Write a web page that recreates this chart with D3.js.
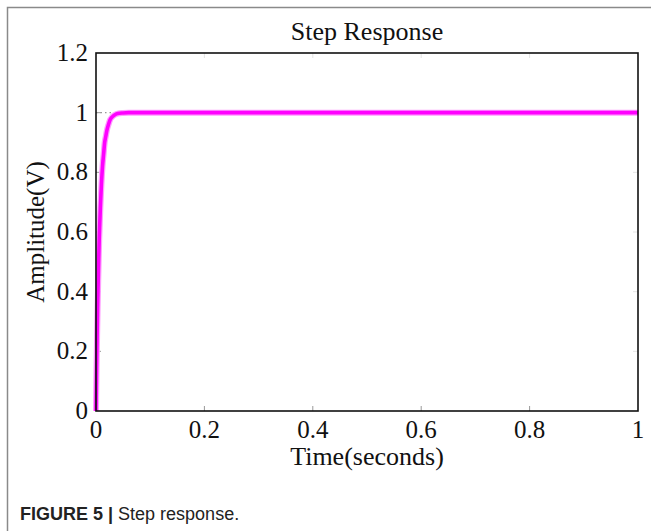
<!DOCTYPE html>
<html>
<head>
<meta charset="utf-8">
<script src="https://cdn.jsdelivr.net/npm/d3@7"></script>
<style>
  html, body { margin: 0; padding: 0; background: #fff; }
  svg { display: block; }
</style>
</head>
<body>
<svg id="chart" width="651" height="531"></svg>
<script>
// Step response samples: time (s) and amplitude (V)
const timeValues = [0, 0.001, 0.002, 0.003, 0.004, 0.005, 0.006, 0.007, 0.008, 0.010, 0.012,
  0.014, 0.016, 0.018, 0.020, 0.023, 0.026, 0.030, 0.035, 0.040, 0.050, 0.060, 0.1, 0.2,
  0.4, 0.6, 0.8, 1.0];
const amplitudeValues = [0, 0.13, 0.25, 0.35, 0.43, 0.51, 0.58, 0.63, 0.68, 0.76, 0.82,
  0.86, 0.90, 0.92, 0.94, 0.96, 0.976, 0.986, 0.993, 0.997, 0.999, 1.0, 1.0, 1.0,
  1.0, 1.0, 1.0, 1.0];
const xTickValues = [0, 0.2, 0.4, 0.6, 0.8, 1];
const yTickValues = [0, 0.2, 0.4, 0.6, 0.8, 1, 1.2];
const steadyStateValue = 1;

const svg = d3.select("#chart");
const W = 651, H = 531;
const plot = { left: 96, right: 638, top: 53, bottom: 411 };

const x = d3.scaleLinear().domain([0, 1]).range([plot.left, plot.right]);
const y = d3.scaleLinear().domain([0, 1.2]).range([plot.bottom, plot.top]);

const serif = "'Liberation Serif', 'Times New Roman', serif";

// outer figure frame (left and top edges)
svg.append("path")
  .attr("d", `M7.5,${H} V7.5 H${W}`)
  .attr("fill", "none")
  .attr("stroke", "#8a8a8a")
  .attr("stroke-width", 1.5);

// title
svg.append("text")
  .attr("x", (plot.left + plot.right) / 2)
  .attr("y", 40)
  .attr("text-anchor", "middle")
  .attr("font-family", serif)
  .attr("font-size", 26)
  .attr("fill", "#111")
  .text("Step Response");

// inward tick marks on all four sides
const tickG = svg.append("g").attr("stroke", "#999").attr("stroke-width", 1);
xTickValues.slice(1, -1).forEach(v => {
  tickG.append("line").attr("x1", x(v)).attr("x2", x(v))
    .attr("y1", plot.bottom).attr("y2", plot.bottom - 5);
  tickG.append("line").attr("x1", x(v)).attr("x2", x(v))
    .attr("y1", plot.top).attr("y2", plot.top + 5).attr("stroke", "#e4e4e4");
});
yTickValues.slice(1, -1).forEach(v => {
  tickG.append("line").attr("x1", plot.left).attr("x2", plot.left + 5)
    .attr("y1", y(v)).attr("y2", y(v));
  tickG.append("line").attr("x1", plot.right).attr("x2", plot.right - 5)
    .attr("y1", y(v)).attr("y2", y(v)).attr("stroke", "#e4e4e4");
});

// steady-state reference line
svg.append("line")
  .attr("x1", x(0)).attr("x2", x(0.032))
  .attr("y1", y(steadyStateValue)).attr("y2", y(steadyStateValue))
  .attr("stroke", "#999")
  .attr("stroke-width", 1.2)
  .attr("stroke-dasharray", "1.5,3");

// response curve
const pts = timeValues.map((t, i) => [t, amplitudeValues[i]]);
const line = d3.line().x(d => x(d[0])).y(d => y(d[1])).curve(d3.curveMonotoneX);
svg.append("path")
  .datum(pts)
  .attr("d", line)
  .attr("fill", "none")
  .attr("stroke", "#ff9cff")
  .attr("stroke-width", 6)
  .attr("stroke-linejoin", "round");
svg.append("path")
  .datum(pts)
  .attr("d", line)
  .attr("fill", "none")
  .attr("stroke", "#ff00ff")
  .attr("stroke-width", 3.6)
  .attr("stroke-linejoin", "round");

// axes box
svg.append("rect")
  .attr("x", plot.left).attr("y", plot.top)
  .attr("width", plot.right - plot.left).attr("height", plot.bottom - plot.top)
  .attr("fill", "none")
  .attr("stroke", "#111")
  .attr("stroke-width", 1.6);

// tick labels
svg.append("g").selectAll("text")
  .data(xTickValues).join("text")
  .attr("x", d => x(d))
  .attr("y", 438)
  .attr("text-anchor", "middle")
  .attr("font-family", serif)
  .attr("font-size", 25)
  .attr("fill", "#111")
  .text(d => d3.format("~g")(d));

svg.append("g").selectAll("text")
  .data(yTickValues).join("text")
  .attr("x", 88)
  .attr("y", d => y(d) + 8)
  .attr("text-anchor", "end")
  .attr("font-family", serif)
  .attr("font-size", 25)
  .attr("fill", "#111")
  .text(d => d3.format("~g")(d));

// axis labels
svg.append("text")
  .attr("x", (plot.left + plot.right) / 2)
  .attr("y", 465)
  .attr("text-anchor", "middle")
  .attr("font-family", serif)
  .attr("font-size", 26)
  .attr("fill", "#111")
  .text("Time(seconds)");

svg.append("text")
  .attr("transform", `translate(44,${(plot.top + plot.bottom) / 2}) rotate(-90)`)
  .attr("text-anchor", "middle")
  .attr("font-family", serif)
  .attr("font-size", 25)
  .attr("fill", "#111")
  .text("Amplitude(V)");

// figure caption
const cap = svg.append("text")
  .attr("x", 20)
  .attr("y", 520)
  .attr("font-family", "'Liberation Sans', Arial, sans-serif")
  .attr("font-size", 18)
  .attr("fill", "#222");
cap.append("tspan").attr("font-weight", "bold").text("FIGURE 5 | ");
cap.append("tspan").text("Step response.");
</script>
</body>
</html>
